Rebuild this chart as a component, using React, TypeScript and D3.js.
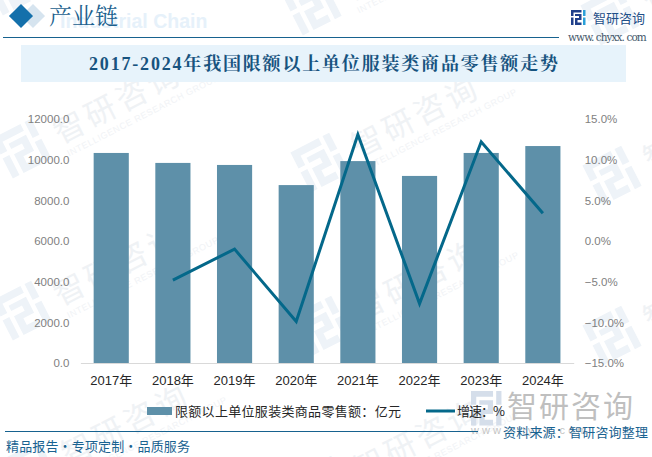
import * as d3 from "d3";
import { useEffect, useRef } from "react";

const years = ["2017年", "2018年", "2019年", "2020年", "2021年", "2022年", "2023年", "2024年"];
const sales = [10330, 9840, 9740, 8750, 9930, 9200, 10330, 10670];
const growth = [null, -4.8, -1.0, -9.9, 13.1, -7.7, 12.2, 3.4];
const salesTicks = [0, 2000, 4000, 6000, 8000, 10000, 12000];
const growthTicks = [-15, -10, -5, 0, 5, 10, 15];

const W = 652;
const H = 457;
const SANS = "'Noto Sans CJK SC', sans-serif";
const LATIN = "'Liberation Sans', 'Noto Sans CJK SC', sans-serif";
const SERIF = "'Liberation Serif', 'Noto Serif CJK SC', 'Noto Sans CJK SC', serif";
const BAR = "#5e90a9";
const LINE = "#04688a";
const NAVY = "#1a6391";

// watermark tile anchors
const tiles = [
  [12, -15], [312, 5], [610, 15],
  [22, 148], [320, 162], [612, 175],
  [22, 310], [322, 325], [612, 335],
  [30, 470], [322, 485],
];

const LOGO_LEFT = "M0 0H21V5H5V12H0Z M0 15H5V30H0Z M8 8H21V20H13V25H21V30H8V16H16V12H8Z";
const LOGO_RIGHT = "M24 0H29V12H24Z M24 15H29V30H24Z";

const App = () => {
  const ref = useRef<SVGSVGElement>(null);

  useEffect(() => {
    if (!ref.current) return;
    const svg = d3.select(ref.current);
    svg.selectAll("*").remove();

    const x = d3.scaleBand<string>().domain(years).range([80.4, 573.7]).paddingInner(0.43).paddingOuter(0.215);
    const yLeft = d3.scaleLinear().domain([0, 12000]).range([363, 119]);
    const yRight = d3.scaleLinear().domain([-15, 15]).range([363, 119]);

    // background watermarks
    const wm = svg.append("g");
    tiles.forEach(([tx, ty]) => {
      const t = wm.append("g").attr("transform", `translate(${tx},${ty}) rotate(-27)`);
      t.append("path").attr("d", LOGO_LEFT + LOGO_RIGHT).attr("transform", "translate(-22,-22) scale(1.5)").attr("fill", "#eef3f8");
      t.append("text").text("智研咨询").attr("x", 36).attr("y", 14).attr("font-size", 31).attr("letter-spacing", 4)
        .attr("font-family", SANS).attr("fill", "#eff2f5");
      t.append("text").text("INTELLIGENCE RESEARCH GROUP").attr("x", 38).attr("y", 29).attr("font-size", 9).attr("letter-spacing", 0.6)
        .attr("font-family", LATIN).attr("fill", "#f1f3f6");
    });

    // header
    svg.append("path").attr("d", d3.symbol(d3.symbolSquare, 290)()!).attr("transform", "translate(33,16) rotate(45)").attr("fill", "#d6e4ef");
    svg.append("path").attr("d", d3.symbol(d3.symbolSquare, 290)()!).attr("transform", "translate(21,16) rotate(45)").attr("fill", "#1470ab");
    svg.append("text").text("Industrial Chain").attr("x", 60).attr("y", 28).attr("font-size", 19.5).attr("font-weight", 700)
      .attr("font-family", LATIN).attr("fill", "#e6f1fa");
    svg.append("text").text("产业链").attr("x", 49).attr("y", 24).attr("font-size", 23).attr("font-family", SERIF).attr("fill", "#1a5f8e");
    svg.append("line").attr("x1", 3).attr("x2", 559).attr("y1", 37.5).attr("y2", 37.5).attr("stroke", "#17628f").attr("stroke-width", 1);

    // top right brand
    svg.append("path").attr("d", LOGO_LEFT).attr("transform", "translate(571,10) scale(0.5)").attr("fill", "#1f3f8a");
    svg.append("path").attr("d", LOGO_RIGHT).attr("transform", "translate(571,10) scale(0.5)").attr("fill", "#2a9fd8");
    svg.append("text").text("智研咨询").attr("x", 593).attr("y", 23).attr("font-size", 13).attr("font-family", SANS).attr("fill", "#1f4f88");
    svg.append("text").text("www. chyxx. com").attr("x", 568).attr("y", 41).attr("font-size", 10.5).attr("letter-spacing", 0.25)
      .attr("font-family", "'DejaVu Serif', serif").attr("textLength", 79).attr("fill", "#44586a");

    // title band
    svg.append("rect").attr("x", 21).attr("y", 45).attr("width", 605).attr("height", 37).attr("fill", "#e7f3fb");
    svg.append("text").text("2017-2024年我国限额以上单位服装类商品零售额走势").attr("x", 323.5).attr("y", 70).attr("text-anchor", "middle")
      .attr("font-size", 18).attr("font-weight", 700).attr("font-family", SERIF).attr("textLength", 469).attr("fill", "#17537f");

    // bars
    svg.append("g").selectAll("rect").data(sales).enter().append("rect")
      .attr("x", (_, i) => x(years[i])!)
      .attr("y", d => yLeft(d))
      .attr("width", x.bandwidth())
      .attr("height", d => yLeft(0) - yLeft(d))
      .attr("fill", BAR);

    // axes
    const left = svg.append("g").attr("transform", "translate(80.4,0)")
      .call(d3.axisLeft(yLeft).tickValues(salesTicks).tickSize(0).tickPadding(11).tickFormat(d => d3.format(".1f")(d as number)));
    const right = svg.append("g").attr("transform", "translate(573.7,0)")
      .call(d3.axisRight(yRight).tickValues(growthTicks).tickSize(0).tickPadding(11).tickFormat(d => `${d3.format(".1f")(d as number)}%`));
    const bottom = svg.append("g").attr("transform", "translate(0,363)")
      .call(d3.axisBottom(x).tickSize(0).tickPadding(13));
    left.select(".domain").remove();
    right.select(".domain").remove();
    bottom.select(".domain").attr("stroke", "#d9d9d9");
    [left, right].forEach(a => a.selectAll("text").attr("font-size", 11.5).attr("font-family", LATIN).attr("fill", "#7f7f7f"));
    bottom.selectAll("text").attr("font-size", 13).attr("font-family", LATIN).attr("fill", "#262626");

    // growth line
    const line = d3.line<number | null>()
      .defined(d => d !== null)
      .x((_, i) => x(years[i])! + x.bandwidth() / 2)
      .y(d => yRight(d as number));
    svg.append("path").datum(growth).attr("fill", "none").attr("stroke", LINE).attr("stroke-width", 3).attr("d", line);

    // big watermark bottom right
    svg.append("path").attr("d", LOGO_LEFT + LOGO_RIGHT).attr("transform", "translate(471,391) scale(1.05,1.15)").attr("fill", "#d5deea");
    svg.append("text").text("智研咨询").attr("x", 507).attr("y", 417).attr("font-size", 30).attr("letter-spacing", 2)
      .attr("font-family", SANS).attr("fill", "#bfbfbf");
    svg.append("text").text("w w w . c h y x x . c o m").attr("x", 471).attr("y", 434).attr("font-size", 11)
      .attr("font-family", LATIN).attr("fill", "#c4c4c4");

    // legend
    svg.append("rect").attr("x", 147).attr("y", 407).attr("width", 25).attr("height", 8).attr("fill", BAR);
    svg.append("text").text("限额以上单位服装类商品零售额：亿元").attr("x", 175).attr("y", 416).attr("font-size", 13)
      .attr("font-family", SANS).attr("textLength", 226).attr("fill", "#262626");
    svg.append("line").attr("x1", 426).attr("x2", 455).attr("y1", 411).attr("y2", 411).attr("stroke", LINE).attr("stroke-width", 3);
    svg.append("text").text("增速：%").attr("x", 457).attr("y", 416).attr("font-size", 13)
      .attr("font-family", SANS).attr("textLength", 48).attr("fill", "#262626");

    // footer
    svg.append("line").attr("x1", 5).attr("x2", 478).attr("y1", 431.5).attr("y2", 431.5).attr("stroke", "#17628f").attr("stroke-width", 1);
    svg.append("text").text("精品报告・专项定制・品质服务").attr("x", 6).attr("y", 451).attr("font-size", 13)
      .attr("font-family", SANS).attr("textLength", 184).attr("fill", NAVY);
    svg.append("text").text("资料来源：智研咨询整理").attr("x", 503).attr("y", 437).attr("font-size", 13)
      .attr("font-family", SANS).attr("textLength", 145).attr("fill", NAVY);
  }, []);

  return <svg ref={ref} width={W} height={H} style={{ position: "absolute", left: 0, top: 0, background: "#fff" }} />;
};

export default App;
